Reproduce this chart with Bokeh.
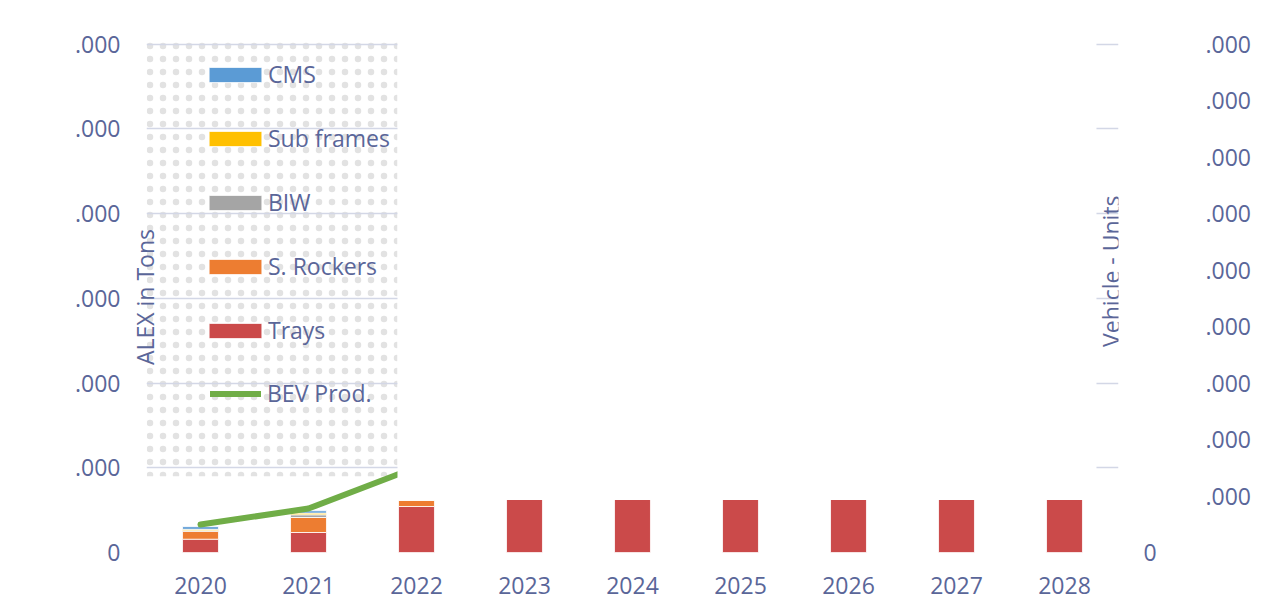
from bokeh.plotting import figure
from bokeh.models import (Range1d, LinearAxis, FixedTicker, Legend, LegendItem,
                          BoxAnnotation, Label)
from bokeh.embed import file_html
from bokeh.resources import INLINE
import math

years = ["2020", "2021", "2022", "2023", "2024", "2025", "2026", "2027", "2028"]
trays = [1570, 2360, 5430, 6260, 6260, 6260, 6260, 6260, 6260]
s_rockers = [945, 1770, 760, 0, 0, 0, 0, 0, 0]
biw = [60, 320, 0, 0, 0, 0, 0, 0, 0]
sub_frames = [165, 200, 0, 0, 0, 0, 0, 0, 0]
cms = [305, 270, 0, 0, 0, 0, 0, 0, 0]
bev_years = ["2020", "2021", "2022"]
bev_prod = [49500, 77800, 151000]

left_ticks = [0, 10000, 20000, 30000, 40000, 50000, 60000]
left_labels = ["0", ".000", ".000", ".000", ".000", ".000", ".000"]
right_ticks = [100000, 200000, 300000, 400000, 500000, 600000, 700000, 800000, 900000]
right_labels = [".000"] * 9

series_names = ["Trays", "S. Rockers", "BIW", "Sub frames", "CMS"]
colors = ["#CB4A4A", "#ED7D31", "#A5A5A5", "#FFC000", "#5B9BD5"]
TXT = "#5A6699"
GRID = "#D3D7E6"
FONT = "Open Sans"
FS = "23px"

xi = list(range(len(years)))
data = {"x": xi, "Trays": trays, "S. Rockers": s_rockers, "BIW": biw,
        "Sub frames": sub_frames, "CMS": cms}

p = figure(width=1270, height=602, output_backend="svg", toolbar_location=None,
           x_range=Range1d(-0.5, len(years) - 0.5), y_range=Range1d(0, 60300))
p.min_border_left = 146
p.min_border_right = 152
p.min_border_top = 41
p.min_border_bottom = 50
p.outline_line_color = None
p.background_fill_color = "white"
p.border_fill_color = "white"

p.extra_y_ranges = {"r": Range1d(0, 900000 * 60300 / 60000)}

# light dotted decoration behind the left part of the chart
p.add_layout(BoxAnnotation(left=-0.5, right=1.824, bottom=9000, fill_alpha=0,
                           line_color=None, hatch_pattern="dot", hatch_color="#E2E2E2",
                           hatch_scale=13, hatch_weight=4, level="image"))

bars = p.vbar_stack(series_names, x="x", width=0.333, color=colors, source=data,
                    line_color="white", line_width=0.8)

bx = [years.index(y) for y in bev_years]
line = p.line(bx, bev_prod, y_range_name="r", line_color="#70AD47", line_width=6,
              line_cap="round", line_join="round")

# grid / axes
p.xgrid.grid_line_color = None
p.ygrid.grid_line_color = GRID
p.ygrid.grid_line_width = 1.5
p.yaxis.ticker = FixedTicker(ticks=left_ticks)
p.yaxis.major_label_overrides = {t: l for t, l in zip(left_ticks, left_labels)}
p.xaxis.ticker = FixedTicker(ticks=xi)
p.xaxis.major_label_overrides = {i: y for i, y in enumerate(years)}

for ax in [p.xaxis[0], p.yaxis[0]]:
    ax.axis_line_color = None
    ax.major_tick_line_color = None
    ax.minor_tick_line_color = None
    ax.major_tick_out = 0
    ax.major_label_text_color = TXT
    ax.major_label_text_font = FONT
    ax.major_label_text_font_size = FS
p.yaxis.major_label_standoff = 26
p.xaxis.major_label_standoff = 24

p.yaxis.axis_label = "ALEX in Tons"
p.yaxis.axis_label_standoff = -89
p.yaxis.axis_label_text_font = FONT
p.yaxis.axis_label_text_font_style = "normal"
p.yaxis.axis_label_text_font_size = FS
p.yaxis.axis_label_text_color = TXT

ax_r0 = LinearAxis(y_range_name="r", ticker=FixedTicker(ticks=[0]))
ax_r1 = LinearAxis(y_range_name="r", ticker=FixedTicker(ticks=right_ticks),
                   major_label_overrides={t: l for t, l in zip(right_ticks, right_labels)})
for ax in [ax_r0, ax_r1]:
    ax.axis_line_color = None
    ax.major_tick_line_color = None
    ax.minor_tick_line_color = None
    ax.major_tick_out = 0
    ax.major_tick_in = 0
    ax.major_label_text_color = TXT
    ax.major_label_text_font = FONT
    ax.major_label_text_font_size = FS
ax_r0.major_label_standoff = 25
ax_r1.major_label_standoff = 46
p.add_layout(ax_r0, "right")
p.add_layout(ax_r1, "right")

# white cover over the central part of the chart
p.add_layout(BoxAnnotation(left=1.824, right=8.296, bottom=6260, fill_color="white",
                           fill_alpha=1.0, line_color=None))

p.add_layout(Label(x=8.435, y=33200, text="Vehicle - Units", angle=math.pi / 2,
                   text_align="center", text_baseline="middle", text_color=TXT,
                   text_font=FONT, text_font_size=FS))

bar_items = [LegendItem(label=n, renderers=[r]) for n, r in zip(series_names, bars)][::-1]
common = dict(orientation="vertical", padding=0, margin=0, border_line_color=None,
              background_fill_alpha=0, label_text_color=TXT, label_text_font=FONT,
              label_text_font_size=FS)
leg_bars = Legend(items=bar_items, location=(56, 206), glyph_width=66, glyph_height=19,
                  label_standoff=0, spacing=32, **common)
leg_line = Legend(items=[LegendItem(label="BEV Prod.", renderers=[line])],
                  location=(64, 143), glyph_width=51, glyph_height=19,
                  label_standoff=6, **common)
p.add_layout(leg_bars)
p.add_layout(leg_line)

open("out.html", "w").write(file_html(p, INLINE))
